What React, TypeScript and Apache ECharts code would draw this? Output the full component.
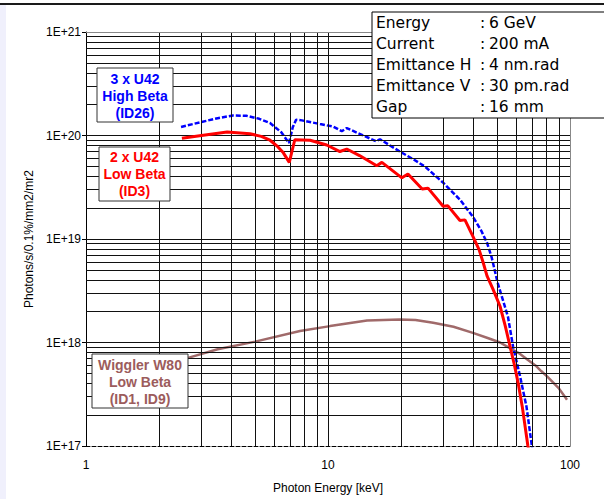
import React, { useEffect, useRef } from "react";
import * as echarts from "echarts";

// Photon energy [keV] / brilliance pairs
const highBeta: [number, number][] = [
  [2.47, 1.21e20], [3.0, 1.35e20], [3.5, 1.47e20], [4.05, 1.56e20], [4.6, 1.55e20],
  [5.2, 1.45e20], [5.76, 1.32e20], [6.4, 1.08e20], [6.9, 8.45e19], [7.15, 1.2e20],
  [7.38, 1.42e20], [7.8, 1.4e20], [9.27, 1.29e20], [10.5, 1.22e20], [11.4, 1.1e20],
  [11.95, 1.18e20], [15.8, 8.8e19], [16.4, 9.2e19], [19.8, 7.0e19], [22.5, 5.9e19],
  [25.2, 5.0e19], [29.9, 3.5e19], [35.1, 2.4e19], [39.7, 1.64e19], [43, 1.2e19],
  [45.4, 9.2e18], [47.5, 6.6e18], [50.2, 3.8e18], [53, 2.5e18], [55.4, 1.78e18],
  [58.2, 9.1e17], [62.2, 4.7e17], [66.1, 2.4e17], [70, 9e16],
];
const lowBeta: [number, number][] = [
  [2.49, 9.4e19], [3.0, 1.0e20], [3.83, 1.08e20], [4.76, 1.04e20], [5.3, 9.8e19],
  [5.76, 9.0e19], [6.2, 7.8e19], [6.54, 6.8e19], [6.92, 5.5e19], [7.29, 9.1e19],
  [8.43, 9.0e19], [9.88, 8.1e19], [11.2, 7.0e19], [11.95, 7.4e19], [13.5, 6.4e19],
  [15.9, 5.1e19], [16.7, 5.5e19], [20.2, 3.9e19], [21.4, 4.25e19], [24.5, 3.04e19],
  [25.9, 3.1e19], [29.9, 2.07e19], [31.3, 2.09e19], [35.1, 1.51e19], [36.8, 1.53e19],
  [39.7, 1.06e19], [42.1, 7.9e18], [43.8, 5.9e18], [45.4, 4.4e18], [48, 3.3e18],
  [51.4, 2.24e18], [54, 1.45e18], [56.5, 9.2e17], [58.8, 6.2e17], [61, 4.1e17],
  [63.5, 2.4e17], [67, 1.0e17], [68, 8.5e16],
];
const wiggler: [number, number][] = [
  [2.64, 7.1e17], [3.5, 8.6e17], [5.0, 1.02e18], [7.66, 1.29e18], [10.2, 1.44e18],
  [14.5, 1.63e18], [19.8, 1.67e18], [23, 1.65e18], [27.2, 1.55e18], [33, 1.42e18],
  [39.7, 1.24e18], [46, 1.1e18], [51.4, 1.0e18], [58, 8.5e17], [62, 7.8e17],
  [66.4, 6.9e17], [72, 6.0e17], [76, 5.3e17], [80.4, 4.7e17], [90, 3.6e17], [97.2, 2.8e17],
];

const xGrid = [2, 3, 4, 5, 6, 7, 8, 9, 10, 20, 30, 40, 50, 60, 70, 80, 90];
const yMantissa = [1, 2, 3, 4, 5, 6, 7, 8, 9];
const yDecades = [17, 18, 19, 20];

const infoLabels = ["Energy", "Current", "Emittance H", "Emittance V", "Gap"];
const infoValues = ["6 GeV", "200 mA", "4 nm.rad", "30 pm.rad", "16 mm"];

export default function App() {
  const ref = useRef<HTMLDivElement>(null);
  useEffect(() => {
    if (!ref.current) return;
    const chart = echarts.init(ref.current, undefined, { renderer: "svg" });

    const yGrid: number[] = [];
    yDecades.forEach((d) =>
      yMantissa.forEach((m) => {
        const v = m * Math.pow(10, d);
        if (v > 1e17) yGrid.push(v);
      })
    );

    const gridLines = [
      ...xGrid.map((x) => ({ xAxis: x })),
      ...yGrid.map((y) => ({ yAxis: y })),
    ];

    const infoGraphics: any[] = [];
    infoLabels.forEach((l, i) => {
      const y = 23 + i * 21;
      const font = { fontFamily: "DejaVu Sans", fontSize: 15.5, fill: "#000", textVerticalAlign: "middle" };
      infoGraphics.push({ type: "text", z: 101, x: 376, y, style: { ...font, text: l } });
      infoGraphics.push({ type: "text", z: 101, x: 480, y, style: { ...font, text: ":" } });
      infoGraphics.push({ type: "text", z: 101, x: 489, y, style: { ...font, text: infoValues[i] } });
    });

    const boxText = (x: number, y: number, text: string, color: string) => ({
      type: "text",
      z: 101,
      x,
      y,
      style: {
        text,
        fill: color,
        fontFamily: "Liberation Sans",
        fontWeight: "bold",
        fontSize: 14,
        lineHeight: 17,
        textAlign: "center",
        textVerticalAlign: "middle",
      },
    });
    const box = (x: number, y: number, w: number, h: number) => ({
      type: "rect",
      z: 100,
      shape: { x, y, width: w, height: h },
      style: { fill: "#fff", stroke: "#333", lineWidth: 1 },
    });

    chart.setOption({
      animation: false,
      backgroundColor: "#fff",
      grid: { left: 86, right: 34, top: 32, bottom: 52 },
      xAxis: {
        type: "log",
        logBase: 10,
        min: 1,
        max: 100,
        name: "Photon Energy [keV]",
        nameLocation: "middle",
        nameGap: 36,
        nameTextStyle: { fontFamily: "Liberation Sans", fontSize: 12, color: "#000" },
        axisLine: { show: true, lineStyle: { color: "#000", width: 1, type: [4, 2] } },
        axisTick: { show: false },
        splitLine: { show: false },
        axisLabel: { fontFamily: "Liberation Sans", fontSize: 12, color: "#000", margin: 13 },
      },
      yAxis: {
        type: "log",
        logBase: 10,
        min: 1e17,
        max: 1e21,
        name: "Photons/s/0.1%/mm2/mr2",
        nameLocation: "middle",
        nameGap: 51,
        nameTextStyle: { fontFamily: "Liberation Sans", fontSize: 12, color: "#000" },
        axisLine: { show: true, lineStyle: { color: "#000", width: 1 } },
        axisTick: { show: true, length: 4, lineStyle: { color: "#000" } },
        splitLine: { show: false },
        axisLabel: {
          fontFamily: "Liberation Sans",
          fontSize: 12,
          color: "#000",
          margin: 5,
          formatter: (v: number) => "1E+" + Math.round(Math.log10(v)),
        },
      },
      series: [
        {
          type: "line",
          name: "grid",
          z: 1,
          data: [],
          silent: true,
          markLine: {
            silent: true,
            symbol: ["none", "none"],
            label: { show: false },
            emphasis: { disabled: true },
            lineStyle: { color: "#111", type: "solid", width: 1 },
            data: gridLines,
          },
        },
        {
          type: "line",
          name: "frame",
          z: 1,
          data: [],
          silent: true,
          markLine: {
            silent: true,
            symbol: ["none", "none"],
            label: { show: false },
            emphasis: { disabled: true },
            lineStyle: { color: "#888", type: "solid", width: 1 },
            data: [{ yAxis: 1e21 }, { xAxis: 100 }],
          },
        },
        {
          type: "line",
          name: "Wiggler W80 Low Beta",
          z: 3,
          data: wiggler,
          showSymbol: false,
          lineStyle: { color: "#a06a6a", width: 2.5 },
        },
        {
          type: "line",
          name: "3 x U42 High Beta",
          z: 4,
          data: highBeta,
          showSymbol: false,
          lineStyle: { color: "#0000ff", width: 2.5, type: [5, 2] },
        },
        {
          type: "line",
          name: "2 x U42 Low Beta",
          z: 5,
          data: lowBeta,
          showSymbol: false,
          lineStyle: { color: "#ff0000", width: 3 },
        },
      ],
      graphic: [
        { type: "rect", z: 100, shape: { x: 0, y: 3, width: 604, height: 2 }, style: { fill: "#1a1a1a" } },
        { type: "rect", z: 100, shape: { x: 0, y: 5, width: 6, height: 494 }, style: { fill: "#f0f0fc" } },
        box(97, 68, 76, 54),
        boxText(135, 95.5, "3 x U42\nHigh Beta\n(ID26)", "#0000ff"),
        box(99, 147, 71, 54),
        boxText(134.5, 174, "2 x U42\nLow Beta\n(ID3)", "#ff0000"),
        box(92, 354, 96, 54),
        boxText(140, 381.5, "Wiggler W80\nLow Beta\n(ID1, ID9)", "#9c5c5c"),
        { type: "rect", z: 100, shape: { x: 372, y: 12, width: 240, height: 106 }, style: { fill: "#fff", stroke: "#000", lineWidth: 1 } },
        ...infoGraphics,
      ],
    });
    return () => chart.dispose();
  }, []);
  return <div ref={ref} style={{ position: "absolute", left: 0, top: 0, width: 604, height: 499 }} />;
}
